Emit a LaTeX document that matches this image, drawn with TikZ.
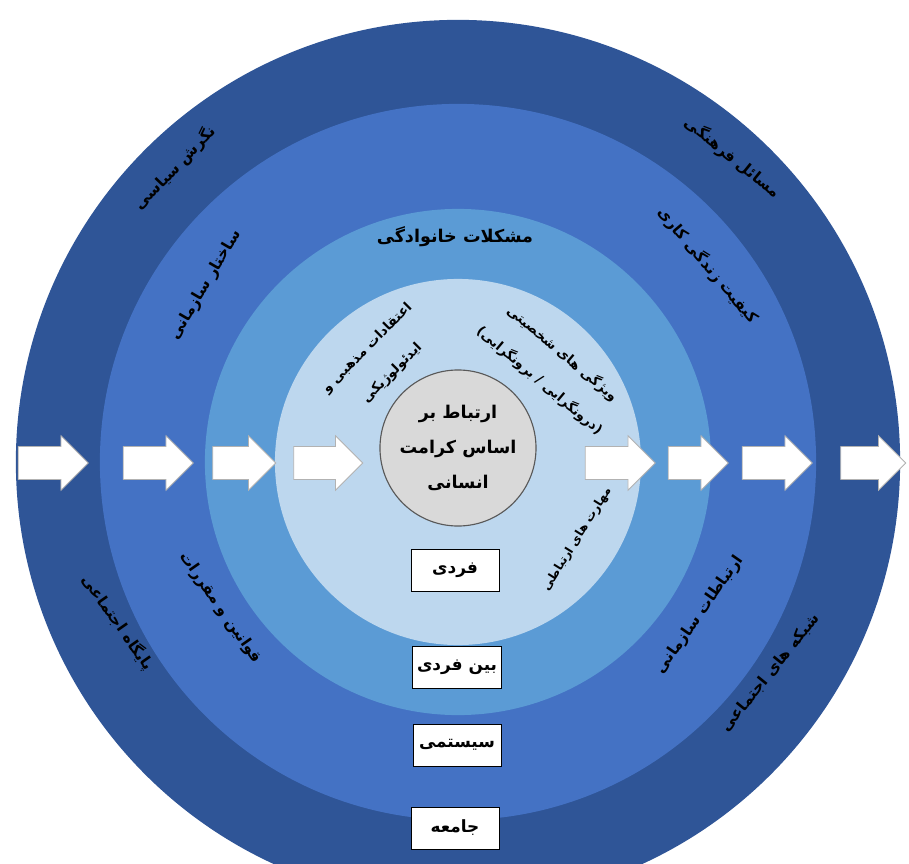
\documentclass[tikz,border=0pt]{standalone}
\usepackage{fontspec}
\newfontfamily\arabicfont[Script=Arabic]{DejaVu Sans}
\TeXXeTstate=1
\usetikzlibrary{shapes.arrows}

\definecolor{ringA}{HTML}{2F5597}
\definecolor{ringB}{HTML}{4472C4}
\definecolor{ringC}{HTML}{5B9BD5}
\definecolor{ringD}{HTML}{BDD7EE}
\definecolor{coregray}{HTML}{D9D9D9}
\newcommand{\fa}[1]{\beginR #1\endR}

\begin{document}
\begin{tikzpicture}[
    x=0.025cm, y=0.025cm,
    ring/.style={circle, inner sep=0pt, minimum size=#1*0.05cm},
    flowarrow/.style={single arrow, draw=gray!60, fill=white, line width=0.6pt, inner xsep=0pt, inner ysep=0.4cm,
        single arrow head extend=0.27cm, minimum height=#1*0.025cm},
    level/.style={draw=black, fill=white, line width=0.6pt, minimum width=2.2cm, minimum height=1.05cm,
        font=\arabicfont\bfseries\fontsize{12}{14}\selectfont},
    ringtext/.style={font=\arabicfont\bfseries\fontsize{11}{22}\selectfont, text=black, align=center},
    innertext/.style={font=\arabicfont\bfseries\fontsize{9.5}{25}\selectfont, text=black, align=center},
    boldtext/.style={font=\arabicfont\bfseries\fontsize{12.5}{25}\selectfont, text=black, align=center},
]
\clip (-458,-401) rectangle (451,462);
\useasboundingbox (-458,-401) rectangle (451,462);

% Rings
\node[ring=442, fill=ringA] (society) at (0,0) {};
\node[ring=358, fill=ringB] (system) at (0,0) {};
\node[ring=253, fill=ringC] (inter) at (0,0) {};
\node[ring=183, fill=ringD] (person) at (0,0) {};
\node[ring=78, fill=coregray, draw=gray!70!black, line width=0.8pt, boldtext] (core) at (0,14)
    {\fa{ارتباط بر}\\\fa{اساس کرامت}\\\fa{انسانی}};

% Arrows
\node[flowarrow=70] (arr1) at (-413,-1) {};
\node[flowarrow=70] (arr2) at (-308,-1) {};
\node[flowarrow=63] (arr3) at (-222,-1) {};
\node[flowarrow=69] (arr4) at (-138,-1) {};
\node[flowarrow=70] (arr5) at (154,-1) {};
\node[flowarrow=60] (arr6) at (232,-1) {};
\node[flowarrow=70] (arr7) at (311,-1) {};
\node[flowarrow=65] (arr8) at (407,-1) {};

% Levels
\node[level] (lvlperson) at (-3,-108) {\fa{فردی}};
\node[level] (lvlinter) at (-1,-205) {\fa{بین فردی}};
\node[level] (lvlsystem) at (-1,-283) {\fa{سیستمی}};
\node[level] (lvlsociety) at (-3,-366) {\fa{جامعه}};

% Society ring
\node[ringtext, rotate=46] (politic) at (133.9:408) {\fa{نگرش سیاسی}};
\node[ringtext, rotate=-39] (culture) at (47.9:410) {\fa{مسائل فرهنگی}};
\node[ringtext, rotate=-55] (status) at (-154.7:376) {\fa{پایگاه اجتماعی}};
\node[ringtext, rotate=51] (network) at (-34:377) {\fa{شبکه های اجتماعی}};

% System ring
\node[ringtext, rotate=59.6] (structure) at (144.9:308) {\fa{ساختار سازمانی}};
\node[ringtext, rotate=-50] (worklife) at (38.2:318) {\fa{کیفیت زندگی کاری}};
\node[ringtext, rotate=-55] (rules) at (-148.5:279) {\fa{قوانین و مقررات}};
\node[ringtext, rotate=55] (orgcomm) at (-32.3:286) {\fa{ارتباطات سازمانی}};

% Interpersonal ring
\node[boldtext] (family) at (-3,225) {\fa{مشکلات خانوادگی}};

% Individual ring
\node[innertext, rotate=45] (belief) at (127.6:128) {\fa{اعتقادات مذهبی و}\\\fa{ایدئولوژیکی}};
\node[innertext, rotate=-40] (persona) at (45.6:133) {\fa{ویژگی های شخصیتی}\\\fa{(درونگرایی / برونگرایی)}};
\node[innertext, rotate=58, font=\arabicfont\bfseries\fontsize{8.5}{20}\selectfont] (skills) at (-33:142) {\fa{مهارت های ارتباطی}};

\end{tikzpicture}
\end{document}
